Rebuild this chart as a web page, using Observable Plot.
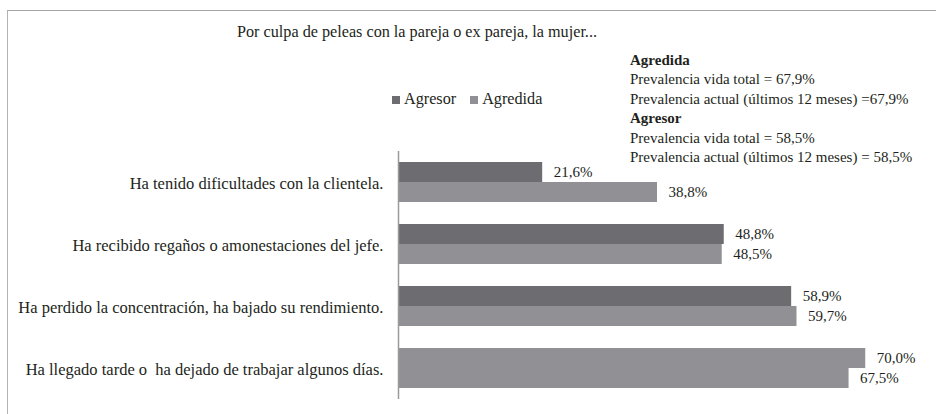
<!DOCTYPE html>
<html>
<head>
<meta charset="utf-8">
<script src="https://cdn.jsdelivr.net/npm/d3@7"></script>
<script src="https://cdn.jsdelivr.net/npm/@observablehq/plot@0.6"></script>
<style>
  html, body { margin: 0; padding: 0; background: #fff; }
  #wrap { position: relative; width: 936px; height: 414px; overflow: hidden;
          font-family: "Liberation Serif", "DejaVu Serif", serif; color: #231f20; }
  #frame { position: absolute; left: 7px; top: 10px; right: -2px; bottom: -2px;
           border-top: 1.5px solid #a6a6a6; border-left: 1.5px solid #b3b3b3; }
  #chart { position: absolute; left: 0; top: 0; }
  .txt { position: absolute; font-size: 15px; line-height: 19.6px; white-space: pre; }
  .sw { display: inline-block; width: 8px; height: 8px; margin-right: 4px; vertical-align: 0px; }
</style>
</head>
<body>
<div id="wrap">
  <div id="frame"></div>
  <div id="chart"></div>
  <div id="title" class="txt" style="left:237px; top:23px; font-size:16.2px;"></div>
  <div id="legend" class="txt" style="left:392px; top:90px; font-size:16.2px;"></div>
  <div id="notes" class="txt" style="left:630px; top:50.5px;"></div>
</div>
<script>
// ---- data ----
const title = "Por culpa de peleas con la pareja o ex pareja, la mujer...";
const categories = [
  "Ha tenido dificultades con la clientela.",
  "Ha recibido regaños o amonestaciones del jefe.",
  "Ha perdido la concentración, ha bajado su rendimiento.",
  "Ha llegado tarde o  ha dejado de trabajar algunos días."
];
const seriesNames = ["Agresor", "Agredida"];
const agresor = [21.6, 48.8, 58.9, 70.0];
const agredida = [38.8, 48.5, 59.7, 67.5];
const notesAgredida = ["Agredida", "Prevalencia vida total = 67,9%", "Prevalencia actual (últimos 12 meses) =67,9%"];
const notesAgresor = ["Agresor", "Prevalencia vida total = 58,5%", "Prevalencia actual (últimos 12 meses) = 58,5%"];

// ---- styling ----
const colors = {Agresor: "#6d6d71", Agredida: "#919195"};
// in the reference, the last category's Agresor bar is drawn in the lighter shade
const lightOverride = new Set([categories[3] + "|Agresor"]);

const rows = [];
categories.forEach((c, i) => {
  rows.push({cat: c, series: "Agresor", value: agresor[i]});
  rows.push({cat: c, series: "Agredida", value: agredida[i]});
});
const fmt = v => v.toFixed(1).replace(".", ",") + "%";
const fillOf = d => lightOverride.has(d.cat + "|" + d.series) ? colors.Agredida : colors[d.series];
const rowsA = rows.filter(d => d.series === "Agresor");
const rowsB = rows.filter(d => d.series === "Agredida");

const chart = Plot.plot({
  width: 936,
  height: 414,
  marginTop: 151,
  marginBottom: 15,
  marginLeft: 398,
  marginRight: 4,
  style: {fontFamily: "'Liberation Serif', 'DejaVu Serif', serif", fontSize: "15px", color: "#231f20", background: "transparent"},
  x: {domain: [0, 80], axis: null},
  y: {domain: categories, paddingInner: 0.355, paddingOuter: 0.1775, axis: null},
  marks: [
    Plot.barX(rowsA, {x: "value", y: "cat", fill: fillOf, insetBottom: 20}),
    Plot.barX(rowsB, {x: "value", y: "cat", fill: fillOf, insetTop: 20}),
    Plot.text(rowsA, {x: "value", y: "cat", text: d => fmt(d.value), textAnchor: "start", dx: 11, dy: -10, fontSize: 15, fill: "#231f20"}),
    Plot.text(rowsB, {x: "value", y: "cat", text: d => fmt(d.value), textAnchor: "start", dx: 11, dy: 10, fontSize: 15, fill: "#231f20"}),
    Plot.axisY({tickSize: 0, tickPadding: 15, fontSize: 16.5, label: null, fill: "#231f20", dy: 1.5}),
    Plot.ruleX([0], {stroke: "#9a9a9a", strokeWidth: 1.5})
  ]
});
document.getElementById("chart").appendChild(chart);

document.getElementById("title").textContent = title;

const legend = document.getElementById("legend");
seriesNames.forEach((s, i) => {
  const span = document.createElement("span");
  span.style.marginRight = i === 0 ? "14px" : "0";
  const sw = document.createElement("span");
  sw.className = "sw";
  sw.style.background = colors[s];
  span.appendChild(sw);
  span.appendChild(document.createTextNode(s));
  legend.appendChild(span);
});

const notes = document.getElementById("notes");
[notesAgredida, notesAgresor].forEach(block => {
  block.forEach((line, j) => {
    const div = document.createElement("div");
    div.textContent = line;
    if (j === 0) div.style.fontWeight = "bold";
    notes.appendChild(div);
  });
});
</script>
</body>
</html>
